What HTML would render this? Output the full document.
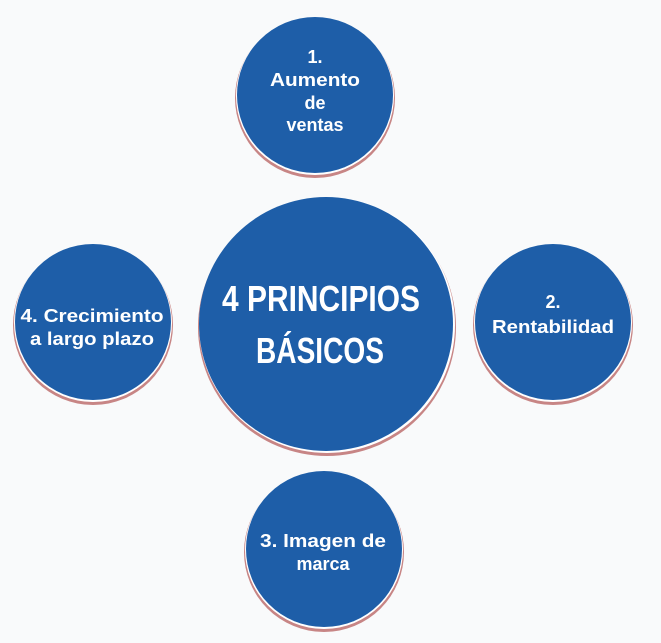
<!DOCTYPE html>
<html><head><meta charset="utf-8"><style>
html,body{margin:0;padding:0;background:#f9fafb;}
svg{display:block}
text{font-family:"Liberation Sans",sans-serif;font-weight:bold;fill:#fff;text-anchor:middle}
</style></head><body>
<svg width="661" height="643" viewBox="0 0 661 643">
<rect width="661" height="643" fill="#f9fafb"/>
<!-- circle 1 -->
<circle cx="315" cy="98" r="80" fill="#c78585"/>
<circle cx="315" cy="96" r="79" fill="#fff"/>
<circle cx="315" cy="95" r="78" fill="#1e5ea8"/>
<!-- center -->
<circle cx="327" cy="327" r="129" fill="#c78585"/>
<circle cx="327" cy="325" r="128" fill="#fff"/>
<circle cx="326" cy="324" r="127" fill="#1e5ea8"/>
<!-- circle 4 -->
<circle cx="93" cy="325" r="80" fill="#c78585"/>
<circle cx="93" cy="323" r="79" fill="#fff"/>
<circle cx="93" cy="322" r="78" fill="#1e5ea8"/>
<!-- circle 2 -->
<circle cx="553" cy="325" r="80" fill="#c78585"/>
<circle cx="553" cy="323" r="79" fill="#fff"/>
<circle cx="553" cy="322" r="78" fill="#1e5ea8"/>
<!-- circle 3 -->
<circle cx="324" cy="552" r="80" fill="#c78585"/>
<circle cx="324" cy="550" r="79" fill="#fff"/>
<circle cx="324" cy="549" r="78" fill="#1e5ea8"/>

<g font-size="18">
<text x="315" y="63">1.</text>
<text x="315" y="86" textLength="90" lengthAdjust="spacingAndGlyphs">Aumento</text>
<text x="315" y="109">de</text>
<text x="315" y="131">ventas</text>
<text x="553" y="308">2.</text>
<text x="553" y="333" textLength="122" lengthAdjust="spacingAndGlyphs">Rentabilidad</text>
<text x="92" y="322" textLength="143" lengthAdjust="spacingAndGlyphs">4. Crecimiento</text>
<text x="92" y="345" textLength="124" lengthAdjust="spacingAndGlyphs">a largo plazo</text>
<text x="323" y="547" textLength="126" lengthAdjust="spacingAndGlyphs">3. Imagen de</text>
<text x="323" y="570">marca</text>
</g>
<g font-size="36">
<text x="321" y="311" textLength="198" lengthAdjust="spacingAndGlyphs">4 PRINCIPIOS</text>
<text x="320" y="363" textLength="128" lengthAdjust="spacingAndGlyphs">BÁSICOS</text>
</g>
</svg>
</body></html>
